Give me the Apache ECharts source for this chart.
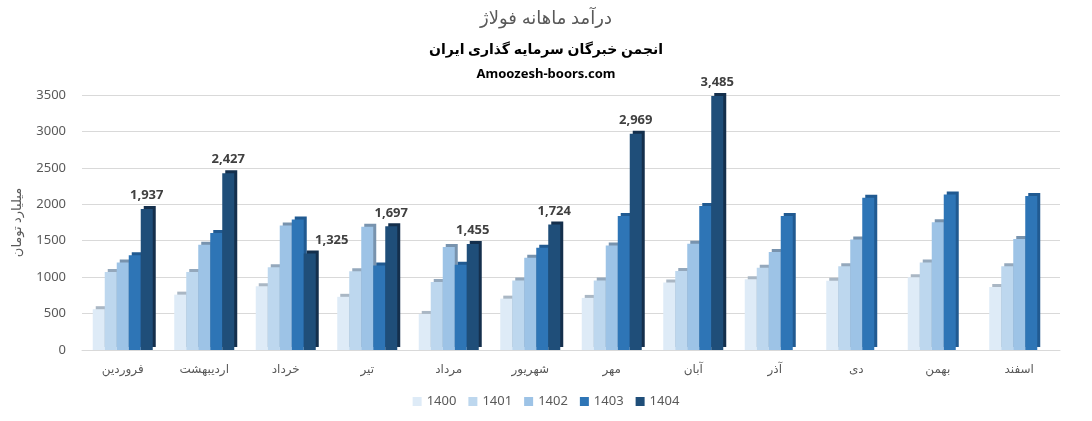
<!DOCTYPE html>
<html>
<head>
<meta charset="utf-8">
<script src="https://cdn.jsdelivr.net/npm/echarts@6/dist/echarts.min.js"></script>
<style>
  html, body { margin: 0; padding: 0; background: #fff; }
  #chart { width: 1092px; height: 421px; }
</style>
</head>
<body>
<div id="chart"></div>
<script>
const months = ['فروردین', 'اردیبهشت', 'خرداد', 'تیر', 'مرداد', 'شهریور', 'مهر', 'آبان', 'آذر', 'دی', 'بهمن', 'اسفند'];
const years = ['1400', '1401', '1402', '1403', '1404'];
const y1400 = [560, 760, 875, 730, 495, 705, 715, 925, 970, 950, 1000, 865];
const y1401 = [1070, 1070, 1135, 1080, 935, 955, 955, 1085, 1130, 1150, 1200, 1150];
const y1402 = [1200, 1445, 1710, 1690, 1415, 1265, 1435, 1460, 1345, 1515, 1755, 1525];
const y1403 = [1300, 1605, 1790, 1160, 1170, 1405, 1840, 1975, 1840, 2090, 2135, 2115];
const y1404 = [1937, 2427, 1325, 1697, 1455, 1724, 2969, 3485, null, null, null, null];
const yTicks = [0, 500, 1000, 1500, 2000, 2500, 3000, 3500];

const colors = ['#deebf7', '#bdd7ee', '#9dc3e6', '#2e75b6', '#1f4e79'];
const sideColors = ['#aab7c4', '#94a8bc', '#7893ae', '#215a91', '#142f4c'];
const font = 'Noto Sans, DejaVu Sans, sans-serif';

const chart = echarts.init(document.getElementById('chart'));

function barSeries(name, data, i) {
  return {
    name: name,
    type: 'bar',
    data: data,
    barWidth: 12,
    barGap: '0%',
    itemStyle: {
      color: colors[i],
      shadowColor: sideColors[i],
      shadowBlur: 0,
      shadowOffsetX: 3,
      shadowOffsetY: -3,
    },
  };
}

const series = [y1400, y1401, y1402, y1403, y1404].map((d, i) => barSeries(years[i], d, i));
// the label over خرداد is pushed right in the original so it clears the 1403 bar
series[4].data = y1404.map((v, i) => (i === 2 ? { value: v, label: { offset: [22, 0] } } : v));
series[4].label = {
  show: true,
  position: 'top',
  distance: 7,
  fontFamily: font,
  fontSize: 13,
  fontWeight: 'bold',
  color: '#404040',
  formatter: (p) => p.value.toLocaleString('en-US'),
};

chart.setOption({
  animation: false,
  textStyle: { fontFamily: font },
  title: [
    {
      text: 'درآمد ماهانه فولاژ',
      left: 'center',
      top: 5,
      textStyle: { fontFamily: font, fontSize: 18, fontWeight: 'normal', color: '#595959' },
    },
    {
      text: 'انجمن خبرگان سرمایه گذاری ایران',
      left: 'center',
      top: 38,
      textStyle: { fontFamily: font, fontSize: 14, fontWeight: 'bold', color: '#000' },
    },
    {
      text: 'Amoozesh-boors.com',
      left: 'center',
      top: 63,
      textStyle: { fontFamily: font, fontSize: 13, fontWeight: 'bold', color: '#000' },
    },
  ],
  legend: {
    data: years,
    bottom: 8,
    left: 'center',
    itemWidth: 9,
    itemHeight: 9,
    itemGap: 12,
    icon: 'rect',
    textStyle: { fontFamily: font, fontSize: 13, color: '#595959' },
  },
  grid: {
    left: 82,
    right: 32,
    top: 95,
    bottom: 71,
  },
  xAxis: {
    type: 'category',
    data: months,
    axisTick: { show: false },
    axisLine: { lineStyle: { color: '#d9d9d9' } },
    axisLabel: { fontFamily: font, fontSize: 12, color: '#595959', margin: 14 },
  },
  yAxis: {
    type: 'value',
    min: yTicks[0],
    max: yTicks[yTicks.length - 1],
    interval: 500,
    name: 'میلیارد تومان',
    nameLocation: 'middle',
    nameRotate: 90,
    nameGap: 58,
    nameTextStyle: { fontFamily: font, fontSize: 13, color: '#595959' },
    axisLabel: {
      fontFamily: font,
      fontSize: 13,
      color: '#595959',
      margin: 16,
      formatter: (v) => String(v),
    },
    splitLine: { lineStyle: { color: '#d9d9d9', width: 1 } },
  },
  series: series,
});
</script>
</body>
</html>
